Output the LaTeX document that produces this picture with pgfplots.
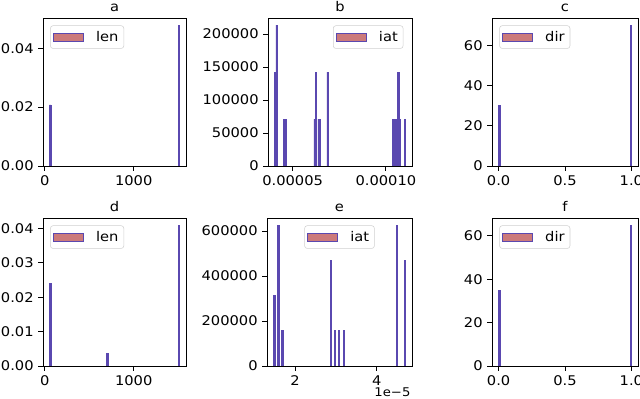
\documentclass[border=0pt]{standalone}
\usepackage{fontspec}
\setmainfont{DejaVu Sans}[FakeStretch=1.1]
\usepackage{pgfplots}
\pgfplotsset{compat=1.18}
\definecolor{barfill}{HTML}{CC7A7A}
\definecolor{baredge}{HTML}{5A48B0}
\definecolor{legframe}{HTML}{D0D0D0}
\pgfplotsset{
  panel/.style={
    scale only axis, height=111pt, ymin=0,
    axis line style={line width=0.6pt},
    tick align=outside, tick pos=left, major tick length=3.5pt,
    tick style={black, line width=0.6pt},
    font=\fontsize{10}{12}\selectfont,
    every axis title/.style={at={(0.5,1)}, anchor=base, yshift=4.5pt, inner sep=0pt},
    legend style={draw=legframe, rounded corners=2pt, fill=white, inner sep=2pt,
      font=\fontsize{10}{12}\selectfont, legend cell align=left},
    legend image code/.code={
      \draw[sharp corners, fill=barfill, draw=baredge, line width=0.5pt] (0pt,-2.9pt) rectangle (22.5pt,2.9pt);
      \path[draw=none, fill=none] (0pt,0pt) -- (30pt,0pt);},
    scaled ticks=false,
  },
  hist/.style={ybar, bar shift=0pt, fill=baredge, draw=baredge, line width=0.4pt},
}
\begin{document}
\begin{tikzpicture}
\useasboundingbox (0pt,0pt) rectangle (480pt,299.25pt);
% a : len
\begin{axis}[panel, at={(32.25pt,174.75pt)}, anchor=south west, width=107.25pt,
  title={a}, xmin=-19, xmax=1587, ymax=0.0503,
  xtick={0,1000}, xticklabels={0,1000},
  ytick={0,0.02,0.04}, yticklabels={0.00,0.02,0.04},
  legend style={at={(0.05,0.95)}, anchor=north west}]
\addplot[hist, bar width=14.6] coordinates {(61.3,0.0208) (1506.7,0.0479)};
\addlegendentry{len}
\end{axis}
% b : iat (x in 1e-5)
\begin{axis}[panel, at={(201pt,174.75pt)}, anchor=south west, width=108pt,
  title={b}, xmin=3.68, xmax=11.40, ymax=224359,
  xtick={5,10}, xticklabels={0.00005,0.00010},
  ytick={0,50000,100000,150000,200000}, yticklabels={0,50000,100000,150000,200000},
  legend style={at={(0.94,0.95)}, anchor=north east}]
\addplot[hist, bar width=0.0702] coordinates {
  (4.066,142450) (4.136,213675) (4.558,71225) (4.628,71225)
  (6.173,71225) (6.243,142450) (6.384,71225) (6.454,71225) (6.875,142450)
  (10.385,71225) (10.455,71225) (10.525,71225) (10.666,142450) (10.736,71225) (11.017,71225)};
\addlegendentry{iat}
\end{axis}
% c : dir
\begin{axis}[panel, at={(369pt,174.75pt)}, anchor=south west, width=109.5pt,
  title={c}, xmin=-0.05, xmax=1.05, ymax=73.5,
  xtick={0,0.5,1}, xticklabels={0.0,0.5,1.0},
  ytick={0,20,40,60}, yticklabels={0,20,40,60},
  legend style={at={(0.05,0.95)}, anchor=north west}]
\addplot[hist, bar width=0.01] coordinates {(0.005,30) (0.995,70)};
\addlegendentry{dir}
\end{axis}
% d : len
\begin{axis}[panel, at={(32.25pt,24.75pt)}, anchor=south west, width=107.25pt,
  title={d}, xmin=-19, xmax=1587, ymax=0.04305,
  xtick={0,1000}, xticklabels={0,1000},
  ytick={0,0.01,0.02,0.03,0.04}, yticklabels={0.00,0.01,0.02,0.03,0.04},
  legend style={at={(0.05,0.95)}, anchor=north west}]
\addplot[hist, bar width=14.6] coordinates {(61.3,0.0240) (703.7,0.0037) (1506.7,0.0410)};
\addlegendentry{len}
\end{axis}
% e : iat (x in 1e-5)
\begin{axis}[panel, name=eax, at={(200.25pt,24.75pt)}, anchor=south west, width=108.75pt,
  title={e}, xmin=1.314, xmax=4.865, ymax=658140,
  xtick={2,4}, xticklabels={2,4},
  ytick={0,200000,400000,600000}, yticklabels={0,200000,400000,600000},
  legend style={at={(0.5,0.95)}, anchor=north}]
\addplot[hist, bar width=0.03228] coordinates {
  (1.491,313400) (1.588,626800) (1.685,156700)
  (2.879,470100) (2.976,156700) (3.073,156700) (3.202,156700)
  (4.494,626800) (4.687,470100)};
\addlegendentry{iat}
\end{axis}
\node[anchor=north east, inner sep=0pt, font=\fontsize{9}{10}\selectfont] at ([xshift=-1pt, yshift=-16pt]eax.south east) {1e−5};
% f : dir
\begin{axis}[panel, at={(369pt,24.75pt)}, anchor=south west, width=109.5pt,
  title={f}, xmin=-0.05, xmax=1.05, ymax=68.25,
  xtick={0,0.5,1}, xticklabels={0.0,0.5,1.0},
  ytick={0,20,40,60}, yticklabels={0,20,40,60},
  legend style={at={(0.05,0.95)}, anchor=north west}]
\addplot[hist, bar width=0.01] coordinates {(0.005,35) (0.995,65)};
\addlegendentry{dir}
\end{axis}
\end{tikzpicture}
\end{document}
